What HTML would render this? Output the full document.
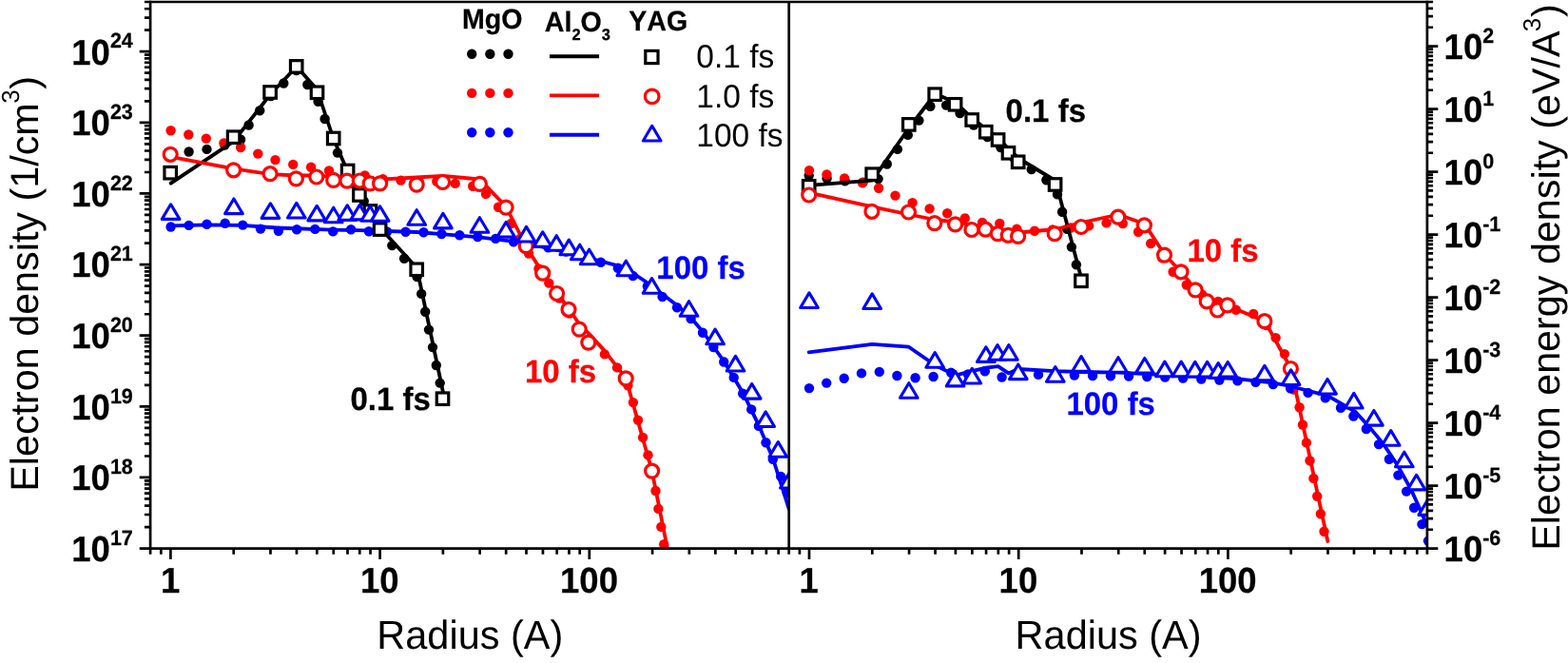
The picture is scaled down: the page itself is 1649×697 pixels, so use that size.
<!DOCTYPE html>
<html lang="en"><head><meta charset="utf-8"><title>Electron density and energy density vs radius</title>
<style>html,body{margin:0;padding:0;background:#fff;overflow:hidden}svg{display:block}text{font-family:"Liberation Sans",sans-serif;font-kerning:none;font-variant-ligatures:none;text-rendering:geometricPrecision}.b{font-weight:bold;stroke-width:0.25px;stroke-linejoin:round;stroke:#000}.b.r{fill:#f00;stroke:#f00}.b.u{fill:#00f;stroke:#00f}</style>
</head><body>
<svg width="1649" height="697" viewBox="0 0 1649 697">
<rect width="1649" height="697" fill="#fff"/>
<defs><clipPath id="cl"><rect x="158.1" y="2" width="671.6" height="574.6"/></clipPath><clipPath id="cr"><rect x="829.7" y="2" width="671.2" height="574.6"/></clipPath></defs>
<g clip-path="url(#cl)">
<g fill="#000" stroke="none"><circle cx="198.6" cy="159.5" r="5.2"/><circle cx="217.5" cy="156.9" r="5.2"/><circle cx="236.3" cy="152.5" r="5.2"/><circle cx="253.1" cy="146.7" r="5.2"/><circle cx="261.6" cy="131.5" r="5.2"/><circle cx="273.2" cy="116.2" r="5.2"/><circle cx="284.8" cy="101" r="5.2"/><circle cx="298.3" cy="87.5" r="5.2"/><circle cx="311.7" cy="74" r="5.2"/><circle cx="323.3" cy="89" r="5.2"/><circle cx="334.6" cy="106.8" r="5.2"/><circle cx="341.6" cy="125" r="5.2"/><circle cx="348.5" cy="143" r="5.2"/><circle cx="355" cy="160.6" r="5.2"/><circle cx="364.2" cy="177.6" r="5.2"/><circle cx="373.5" cy="194.5" r="5.2"/><circle cx="382.7" cy="211.5" r="5.2"/><circle cx="392.5" cy="227" r="5.2"/><circle cx="402.4" cy="242.5" r="5.2"/><circle cx="412.3" cy="258.1" r="5.2"/><circle cx="425.1" cy="271.7" r="5.2"/><circle cx="438.6" cy="291" r="5.2"/><circle cx="443.2" cy="308.9" r="5.2"/><circle cx="447.2" cy="327.7" r="5.2"/><circle cx="451" cy="346.6" r="5.2"/><circle cx="455" cy="365.1" r="5.2"/><circle cx="458.8" cy="384" r="5.2"/><circle cx="462.7" cy="402.6" r="5.2"/></g>
<g fill="#f00" stroke="none"><circle cx="179.6" cy="137.3" r="5.2"/><circle cx="198.3" cy="141.5" r="5.2"/><circle cx="216.8" cy="145.6" r="5.2"/><circle cx="235.4" cy="150.4" r="5.2"/><circle cx="253.1" cy="155" r="5.2"/><circle cx="271.3" cy="161.6" r="5.2"/><circle cx="289.5" cy="168.1" r="5.2"/><circle cx="308.2" cy="172.9" r="5.2"/><circle cx="327.1" cy="175.8" r="5.2"/><circle cx="346" cy="179.5" r="5.2"/><circle cx="364.9" cy="182" r="5.2"/><circle cx="383.7" cy="184.4" r="5.2"/><circle cx="402.6" cy="188.1" r="5.2"/><circle cx="421.5" cy="189.6" r="5.2"/><circle cx="440.4" cy="190.2" r="5.2"/><circle cx="459.3" cy="190.8" r="5.2"/><circle cx="478.7" cy="192.9" r="5.2"/><circle cx="497.2" cy="195.8" r="5.2"/><circle cx="511" cy="203.9" r="5.2"/><circle cx="524.1" cy="217.7" r="5.2"/><circle cx="537.5" cy="235" r="5.2"/><circle cx="547" cy="251" r="5.2"/><circle cx="556.1" cy="266.6" r="5.2"/><circle cx="566.5" cy="282.5" r="5.2"/><circle cx="577.3" cy="297.6" r="5.2"/><circle cx="588.3" cy="313.5" r="5.2"/><circle cx="598.8" cy="329.5" r="5.2"/><circle cx="609.5" cy="345.5" r="5.2"/><circle cx="622" cy="359.5" r="5.2"/><circle cx="635.9" cy="372.4" r="5.2"/><circle cx="649" cy="386.4" r="5.2"/><circle cx="660.4" cy="405.2" r="5.2"/><circle cx="665.9" cy="423.1" r="5.2"/><circle cx="671" cy="441.6" r="5.2"/><circle cx="676.1" cy="459.9" r="5.2"/><circle cx="681.5" cy="478.4" r="5.2"/><circle cx="685.5" cy="497" r="5.2"/><circle cx="689.5" cy="516" r="5.2"/><circle cx="692.4" cy="534.9" r="5.2"/><circle cx="695.3" cy="553.9" r="5.2"/><circle cx="698.2" cy="572.3" r="5.2"/></g>
<g fill="#00f" stroke="none"><circle cx="179.6" cy="238.5" r="5.2"/><circle cx="198.6" cy="236.9" r="5.2"/><circle cx="217.5" cy="235.8" r="5.2"/><circle cx="236.7" cy="234.8" r="5.2"/><circle cx="255.3" cy="236.6" r="5.2"/><circle cx="274" cy="240.6" r="5.2"/><circle cx="292.9" cy="242.7" r="5.2"/><circle cx="312.1" cy="241.2" r="5.2"/><circle cx="331.3" cy="240.9" r="5.2"/><circle cx="350.2" cy="243.4" r="5.2"/><circle cx="369.1" cy="241.2" r="5.2"/><circle cx="387.9" cy="243.3" r="5.2"/><circle cx="407" cy="243.5" r="5.2"/><circle cx="426.6" cy="243.8" r="5.2"/><circle cx="445.5" cy="244.3" r="5.2"/><circle cx="464.4" cy="246" r="5.2"/><circle cx="483.3" cy="247.2" r="5.2"/><circle cx="502.3" cy="249.1" r="5.2"/><circle cx="521.2" cy="250.9" r="5.2"/><circle cx="540.1" cy="254.2" r="5.2"/><circle cx="558.5" cy="256.8" r="5.2"/><circle cx="576.5" cy="260.2" r="5.2"/><circle cx="595.3" cy="264.5" r="5.2"/><circle cx="614" cy="270" r="5.2"/><circle cx="631.9" cy="275.8" r="5.2"/><circle cx="649.8" cy="281.7" r="5.2"/><circle cx="665.7" cy="290" r="5.2"/><circle cx="680.8" cy="300.9" r="5.2"/><circle cx="696.6" cy="312" r="5.2"/><circle cx="712" cy="323.3" r="5.2"/><circle cx="726.6" cy="335.1" r="5.2"/><circle cx="739" cy="349.7" r="5.2"/><circle cx="750.4" cy="365" r="5.2"/><circle cx="761.2" cy="380.5" r="5.2"/><circle cx="771.7" cy="396.9" r="5.2"/><circle cx="781.2" cy="413.7" r="5.2"/><circle cx="790.2" cy="430.4" r="5.2"/><circle cx="797.9" cy="447.9" r="5.2"/><circle cx="805.5" cy="465.3" r="5.2"/><circle cx="812.8" cy="482.7" r="5.2"/><circle cx="821.2" cy="500.9" r="5.2"/><circle cx="827.8" cy="518.4" r="5.2"/></g>
<g fill="none" stroke="#000" stroke-width="3.8" stroke-linejoin="round" stroke-linecap="round"><polyline points="179.7,192.7 245.7,148.6 284.5,99 312,70 333.3,94 350.7,146 365.5,180 378.3,205.5 389.5,223 399.6,239.3 438.4,281.8 465.9,412"/></g>
<g fill="none" stroke="#f00" stroke-width="3.8" stroke-linejoin="round" stroke-linecap="round"><polyline points="179.4,164.9 245.6,177.3 284,183.1 311.5,184.5 333,184.5 350.7,186 399.6,188.6 438.4,186.5 465.9,184.9 504.4,188.5 532.1,217 553.5,259.5 570.7,287 585.5,308 598,324.5 609.5,341 621.1,352.6 635.7,368.6 658.2,397.7 685.6,495 701.9,576.6"/></g>
<g fill="none" stroke="#00f" stroke-width="3.8" stroke-linejoin="round" stroke-linecap="round"><polyline points="179.4,237.3 218.2,236.3 254.6,236.9 291,239.5 349.2,241.7 390,242.4 438,244 464.4,246.2 504,249.3 540.1,253.8 580,261.5 620,271.5 634.6,275.4 656.4,281 678.2,295.5 701.5,313 714.6,323.1 726.6,334 739,348.5 761.1,379.5 781.2,412.7 797.9,446.9 812.8,481.7 829.7,535"/></g>
<g fill="#fff" stroke="#000" stroke-width="3.2"><rect x="172.95" y="175.45" width="12.5" height="12.5"/><rect x="239.35" y="137.95" width="12.5" height="12.5"/><rect x="277.85" y="90.75" width="12.5" height="12.5"/><rect x="305.45" y="63.65" width="12.5" height="12.5"/><rect x="327.25" y="91.05" width="12.5" height="12.5"/><rect x="344.45" y="139.25" width="12.5" height="12.5"/><rect x="359.35" y="173.25" width="12.5" height="12.5"/><rect x="371.65" y="198.75" width="12.5" height="12.5"/><rect x="383.25" y="215.75" width="12.5" height="12.5"/><rect x="393.35" y="234.85" width="12.5" height="12.5"/><rect x="431.95" y="277.05" width="12.5" height="12.5"/><rect x="459.25" y="412.95" width="12.5" height="12.5"/></g>
<g fill="#fff" stroke="#f00" stroke-width="3.2"><circle cx="179.2" cy="162.3" r="7"/><circle cx="245.6" cy="178.8" r="7"/><circle cx="284.1" cy="182.7" r="7"/><circle cx="311.4" cy="187.9" r="7"/><circle cx="332.8" cy="186" r="7"/><circle cx="350.7" cy="189.4" r="7"/><circle cx="364.9" cy="190.1" r="7"/><circle cx="378.3" cy="190" r="7"/><circle cx="389.2" cy="192.9" r="7"/><circle cx="399.6" cy="192.9" r="7"/><circle cx="438.2" cy="194.1" r="7"/><circle cx="465.6" cy="191.5" r="7"/><circle cx="504.4" cy="193.4" r="7"/><circle cx="532.1" cy="218.1" r="7"/><circle cx="553.2" cy="258.6" r="7"/><circle cx="570.7" cy="287.2" r="7"/><circle cx="585.6" cy="308.5" r="7"/><circle cx="598" cy="325.3" r="7"/><circle cx="609.2" cy="346.1" r="7"/><circle cx="618.8" cy="360.1" r="7"/><circle cx="658.2" cy="397.9" r="7"/><circle cx="685.6" cy="495.1" r="7"/></g>
<g fill="#fff" stroke="#00f" stroke-width="3.1" stroke-linejoin="round"><path d="M179.6 214.8L188.9 230.4L170.3 230.4Z"/><path d="M245.9 209L255.2 224.6L236.6 224.6Z"/><path d="M284.4 213.8L293.7 229.4L275.1 229.4Z"/><path d="M311.8 213.4L321.1 229L302.5 229Z"/><path d="M333.2 216.3L342.5 231.9L323.9 231.9Z"/><path d="M350.7 218.2L360 233.8L341.4 233.8Z"/><path d="M365.2 215.8L374.5 231.4L355.9 231.4Z"/><path d="M378.3 215.3L387.6 230.9L369 230.9Z"/><path d="M389.2 216.7L398.5 232.3L379.9 232.3Z"/><path d="M399.6 216.8L408.9 232.4L390.3 232.4Z"/><path d="M438.2 220.7L447.5 236.3L428.9 236.3Z"/><path d="M465.9 224.3L475.2 239.9L456.6 239.9Z"/><path d="M504.4 228.7L513.7 244.3L495.1 244.3Z"/><path d="M532.1 233.5L541.4 249.1L522.8 249.1Z"/><path d="M553.5 238.4L562.8 254L544.2 254Z"/><path d="M570.7 243.8L580 259.4L561.4 259.4Z"/><path d="M585.2 247.7L594.5 263.3L575.9 263.3Z"/><path d="M598.3 252.1L607.6 267.7L589 267.7Z"/><path d="M609.7 257.2L619 272.8L600.4 272.8Z"/><path d="M619.6 262.2L628.9 277.8L610.3 277.8Z"/><path d="M658.3 274.2L667.6 289.8L649 289.8Z"/><path d="M685.5 292.6L694.8 308.2L676.2 308.2Z"/><path d="M724.5 316.7L733.8 332.3L715.2 332.3Z"/><path d="M752.1 346.1L761.4 361.7L742.8 361.7Z"/><path d="M773.5 374.4L782.8 390L764.2 390Z"/><path d="M790.7 403.5L800 419.1L781.4 419.1Z"/><path d="M805.2 432.9L814.5 448.5L795.9 448.5Z"/><path d="M818.3 464.6L827.6 480.2L809 480.2Z"/><path d="M829.9 497.4L839.2 513L820.6 513Z"/></g>
</g>
<g clip-path="url(#cr)">
<g fill="#000" stroke="none"><circle cx="850.7" cy="184.6" r="5.2"/><circle cx="869.6" cy="187.5" r="5.2"/><circle cx="888.6" cy="190.2" r="5.2"/><circle cx="907.5" cy="191.6" r="5.2"/><circle cx="923.6" cy="188.1" r="5.2"/><circle cx="932.8" cy="172.5" r="5.2"/><circle cx="943.9" cy="156.9" r="5.2"/><circle cx="954.8" cy="141.9" r="5.2"/><circle cx="966.4" cy="126.6" r="5.2"/><circle cx="978.4" cy="111.7" r="5.2"/><circle cx="995.1" cy="110.6" r="5.2"/><circle cx="1009.5" cy="119" r="5.2"/><circle cx="1024" cy="131.5" r="5.2"/><circle cx="1038.5" cy="144" r="5.2"/><circle cx="1052.4" cy="155.1" r="5.2"/><circle cx="1067" cy="167" r="5.2"/><circle cx="1084.7" cy="178.1" r="5.2"/><circle cx="1100.4" cy="189.3" r="5.2"/><circle cx="1112" cy="204.4" r="5.2"/><circle cx="1117.1" cy="222.7" r="5.2"/><circle cx="1122.2" cy="240.9" r="5.2"/><circle cx="1126.9" cy="259.6" r="5.2"/><circle cx="1131.9" cy="278.2" r="5.2"/></g>
<g fill="#f00" stroke="none"><circle cx="851" cy="179.1" r="5.2"/><circle cx="869.5" cy="183.5" r="5.2"/><circle cx="888.1" cy="187.5" r="5.2"/><circle cx="907" cy="192.2" r="5.2"/><circle cx="924.1" cy="197.7" r="5.2"/><circle cx="941.5" cy="205.6" r="5.2"/><circle cx="959.6" cy="213.1" r="5.2"/><circle cx="977.6" cy="219.4" r="5.2"/><circle cx="996.2" cy="224.2" r="5.2"/><circle cx="1014.8" cy="229.4" r="5.2"/><circle cx="1033" cy="234" r="5.2"/><circle cx="1051.3" cy="235" r="5.2"/><circle cx="1069.3" cy="240.6" r="5.2"/><circle cx="1088" cy="242.7" r="5.2"/><circle cx="1107" cy="241.5" r="5.2"/><circle cx="1126" cy="239.5" r="5.2"/><circle cx="1145.2" cy="237.4" r="5.2"/><circle cx="1163.6" cy="234.4" r="5.2"/><circle cx="1180.8" cy="235" r="5.2"/><circle cx="1197.1" cy="243.7" r="5.2"/><circle cx="1210.2" cy="256" r="5.2"/><circle cx="1222" cy="271" r="5.2"/><circle cx="1233.6" cy="285.8" r="5.2"/><circle cx="1247.8" cy="299.5" r="5.2"/><circle cx="1264" cy="309.5" r="5.2"/><circle cx="1281.1" cy="316.9" r="5.2"/><circle cx="1299.8" cy="325.7" r="5.2"/><circle cx="1318.2" cy="330" r="5.2"/><circle cx="1332" cy="342" r="5.2"/><circle cx="1341.6" cy="355.1" r="5.2"/><circle cx="1350.9" cy="372.1" r="5.2"/><circle cx="1356.1" cy="390.8" r="5.2"/><circle cx="1360.5" cy="409.6" r="5.2"/><circle cx="1366.6" cy="428.2" r="5.2"/><circle cx="1370" cy="446.5" r="5.2"/><circle cx="1373.9" cy="465.4" r="5.2"/><circle cx="1377.5" cy="484.3" r="5.2"/><circle cx="1381.4" cy="502.9" r="5.2"/><circle cx="1385.2" cy="521.7" r="5.2"/><circle cx="1388.9" cy="540.2" r="5.2"/><circle cx="1392.5" cy="558.8" r="5.2"/></g>
<g fill="#00f" stroke="none"><circle cx="851" cy="408.1" r="5.2"/><circle cx="869.2" cy="402.6" r="5.2"/><circle cx="887.7" cy="397.8" r="5.2"/><circle cx="906" cy="392.4" r="5.2"/><circle cx="924.8" cy="390.9" r="5.2"/><circle cx="943.4" cy="395" r="5.2"/><circle cx="962.6" cy="397.2" r="5.2"/><circle cx="981.6" cy="396" r="5.2"/><circle cx="1000.2" cy="391.7" r="5.2"/><circle cx="1018" cy="393.5" r="5.2"/><circle cx="1035.8" cy="390.2" r="5.2"/><circle cx="1053.6" cy="396.5" r="5.2"/><circle cx="1072.5" cy="394.5" r="5.2"/><circle cx="1092" cy="393.9" r="5.2"/><circle cx="1111" cy="394.2" r="5.2"/><circle cx="1129.9" cy="394.6" r="5.2"/><circle cx="1149.1" cy="395" r="5.2"/><circle cx="1168" cy="395.3" r="5.2"/><circle cx="1187.1" cy="395.6" r="5.2"/><circle cx="1206.3" cy="396" r="5.2"/><circle cx="1225.2" cy="396.5" r="5.2"/><circle cx="1244.1" cy="397.5" r="5.2"/><circle cx="1263.3" cy="398.5" r="5.2"/><circle cx="1282.4" cy="399.6" r="5.2"/><circle cx="1301.5" cy="400.4" r="5.2"/><circle cx="1320.5" cy="401.7" r="5.2"/><circle cx="1338.9" cy="404.1" r="5.2"/><circle cx="1357.1" cy="408.2" r="5.2"/><circle cx="1375.6" cy="412.9" r="5.2"/><circle cx="1393.8" cy="418.4" r="5.2"/><circle cx="1410" cy="428.8" r="5.2"/><circle cx="1423.4" cy="437.5" r="5.2"/><circle cx="1436.8" cy="451" r="5.2"/><circle cx="1450" cy="467.1" r="5.2"/><circle cx="1460.9" cy="482.7" r="5.2"/><circle cx="1470.4" cy="499.6" r="5.2"/><circle cx="1479.1" cy="516.6" r="5.2"/><circle cx="1487.1" cy="533.7" r="5.2"/><circle cx="1495.4" cy="551.1" r="5.2"/><circle cx="1502" cy="568.6" r="5.2"/></g>
<g fill="none" stroke="#000" stroke-width="3.8" stroke-linejoin="round" stroke-linecap="round"><polyline points="851,194.8 917.3,189.6 956,134.5 983.6,98.5 1004.9,108 1022.3,124 1037.1,136 1049.9,145 1061.1,157 1071.2,166.5 1110,190 1136.8,291"/></g>
<g fill="none" stroke="#f00" stroke-width="3.8" stroke-linejoin="round" stroke-linecap="round"><polyline points="851,202.7 917.3,217.3 956,225.5 983.6,231 1004.9,233.5 1022.3,237 1037,238.5 1049.9,241 1061,243 1071.2,244.5 1110,241 1137.5,234 1176.3,225.5 1203.8,235.5 1225,268 1242.3,286 1257.3,304.5 1270,316.5 1281.3,324 1291.4,321.5 1330.2,337.7 1357.7,387.5 1396.3,569"/></g>
<g fill="none" stroke="#00f" stroke-width="3.8" stroke-linejoin="round" stroke-linecap="round"><polyline points="850.7,370.3 917.2,361.8 955.8,364.7 983.2,383.7 1004.6,394.6 1022.3,390.2 1036.9,386.6 1049.7,385.1 1060.6,392.4 1070.8,388 1109.5,390.2 1137,391 1176,391.7 1205.5,393.1 1249,395.3 1300,398.2 1338.2,402.4 1357.1,406 1396.4,416.2 1425.5,433 1440.1,448.9 1454.6,466.4 1469.2,488.2 1483.8,514.4 1491,530 1496.9,543.8 1500.9,553"/></g>
<g fill="#fff" stroke="#000" stroke-width="3.2"><rect x="844.45" y="189.55" width="12.5" height="12.5"/><rect x="910.95" y="176.95" width="12.5" height="12.5"/><rect x="949.55" y="124.65" width="12.5" height="12.5"/><rect x="976.95" y="92.95" width="12.5" height="12.5"/><rect x="998.35" y="103.55" width="12.5" height="12.5"/><rect x="1015.95" y="119.75" width="12.5" height="12.5"/><rect x="1030.55" y="132.45" width="12.5" height="12.5"/><rect x="1043.35" y="140.75" width="12.5" height="12.5"/><rect x="1054.25" y="154.55" width="12.5" height="12.5"/><rect x="1064.45" y="164.05" width="12.5" height="12.5"/><rect x="1103.35" y="187.75" width="12.5" height="12.5"/><rect x="1130.75" y="289.05" width="12.5" height="12.5"/></g>
<g fill="#fff" stroke="#f00" stroke-width="3.2"><circle cx="850.7" cy="205" r="7"/><circle cx="916.9" cy="222.3" r="7"/><circle cx="955.5" cy="223" r="7"/><circle cx="982.8" cy="234.6" r="7"/><circle cx="1004.6" cy="235.9" r="7"/><circle cx="1021.9" cy="241.5" r="7"/><circle cx="1036.4" cy="241.2" r="7"/><circle cx="1049.3" cy="245.7" r="7"/><circle cx="1060.2" cy="247.3" r="7"/><circle cx="1070.6" cy="248.4" r="7"/><circle cx="1109.1" cy="245.6" r="7"/><circle cx="1137" cy="238.5" r="7"/><circle cx="1175.8" cy="228.2" r="7"/><circle cx="1203.4" cy="236.8" r="7"/><circle cx="1224.5" cy="268.1" r="7"/><circle cx="1242" cy="285.8" r="7"/><circle cx="1257.1" cy="304.9" r="7"/><circle cx="1269.2" cy="316.9" r="7"/><circle cx="1280.4" cy="326" r="7"/><circle cx="1290.9" cy="320.9" r="7"/><circle cx="1329.9" cy="337.7" r="7"/><circle cx="1357.4" cy="387.5" r="7"/></g>
<g fill="#fff" stroke="#00f" stroke-width="3.1" stroke-linejoin="round"><path d="M851 307.9L860.3 323.5L841.7 323.5Z"/><path d="M917.2 308.9L926.5 324.5L907.9 324.5Z"/><path d="M955.8 402.7L965.1 418.3L946.5 418.3Z"/><path d="M983.2 370.6L992.5 386.2L973.9 386.2Z"/><path d="M1004.6 390.3L1013.9 405.9L995.3 405.9Z"/><path d="M1022.3 387.4L1031.6 403L1013 403Z"/><path d="M1036.9 364.8L1046.2 380.4L1027.6 380.4Z"/><path d="M1049 362.6L1058.3 378.2L1039.7 378.2Z"/><path d="M1060.9 362.6L1070.2 378.2L1051.6 378.2Z"/><path d="M1070.8 383L1080.1 398.6L1061.5 398.6Z"/><path d="M1109.8 385.6L1119.1 401.2L1100.5 401.2Z"/><path d="M1137.1 374.6L1146.4 390.2L1127.8 390.2Z"/><path d="M1176 375.7L1185.3 391.3L1166.7 391.3Z"/><path d="M1203.8 376.5L1213.1 392.1L1194.5 392.1Z"/><path d="M1224.9 380.1L1234.2 395.7L1215.6 395.7Z"/><path d="M1242.2 380.1L1251.5 395.7L1232.9 395.7Z"/><path d="M1256.8 380.4L1266.1 396L1247.5 396Z"/><path d="M1269.6 380.4L1278.9 396L1260.3 396Z"/><path d="M1281.2 381.6L1290.5 397.2L1271.9 397.2Z"/><path d="M1291.2 380.5L1300.5 396.1L1281.9 396.1Z"/><path d="M1329.9 384.3L1339.2 399.9L1320.6 399.9Z"/><path d="M1357.6 388.9L1366.9 404.5L1348.3 404.5Z"/><path d="M1396 398.5L1405.3 414.1L1386.7 414.1Z"/><path d="M1423.8 413.4L1433.1 429L1414.5 429Z"/><path d="M1444.9 431.5L1454.2 447.1L1435.6 447.1Z"/><path d="M1462.7 452.6L1472 468.2L1453.4 468.2Z"/><path d="M1476.8 475.2L1486.1 490.8L1467.5 490.8Z"/><path d="M1489.6 499.3L1498.9 514.9L1480.3 514.9Z"/><path d="M1501.3 525.8L1510.6 541.4L1492 541.4Z"/></g>
</g>
<g stroke="#000" stroke-width="2.7" fill="none" stroke-linecap="butt">
<path d="M151.9 2H1507.1"/>
<path d="M146.7 576.6H1512.3"/>
<path d="M158.1 0.65V582.8"/>
<path d="M829.7 2V582.8"/>
<path d="M1500.9 0.65V582.8"/>
<path d="M158.1 554.13H151.9M158.1 540.99H151.9M158.1 531.67H151.9M158.1 524.44H151.9M158.1 518.53H151.9M158.1 513.53H151.9M158.1 509.2H151.9M158.1 505.38H151.9M158.1 501.97H146.7M158.1 479.5H151.9M158.1 466.36H151.9M158.1 457.04H151.9M158.1 449.81H151.9M158.1 443.9H151.9M158.1 438.9H151.9M158.1 434.57H151.9M158.1 430.75H151.9M158.1 427.34H146.7M158.1 404.87H151.9M158.1 391.73H151.9M158.1 382.41H151.9M158.1 375.18H151.9M158.1 369.27H151.9M158.1 364.27H151.9M158.1 359.94H151.9M158.1 356.12H151.9M158.1 352.71H146.7M158.1 330.24H151.9M158.1 317.1H151.9M158.1 307.78H151.9M158.1 300.55H151.9M158.1 294.64H151.9M158.1 289.64H151.9M158.1 285.31H151.9M158.1 281.49H151.9M158.1 278.08H146.7M158.1 255.61H151.9M158.1 242.47H151.9M158.1 233.15H151.9M158.1 225.92H151.9M158.1 220.01H151.9M158.1 215.01H151.9M158.1 210.68H151.9M158.1 206.86H151.9M158.1 203.45H146.7M158.1 180.98H151.9M158.1 167.84H151.9M158.1 158.52H151.9M158.1 151.29H151.9M158.1 145.38H151.9M158.1 140.38H151.9M158.1 136.05H151.9M158.1 132.23H151.9M158.1 128.82H146.7M158.1 106.35H151.9M158.1 93.21H151.9M158.1 83.89H151.9M158.1 76.66H151.9M158.1 70.75H151.9M158.1 65.75H151.9M158.1 61.42H151.9M158.1 57.6H151.9M158.1 54.19H146.7M158.1 31.72H151.9M158.1 18.58H151.9M158.1 9.26H151.9M1500.9 556.73H1507.1M1500.9 545.11H1507.1M1500.9 536.86H1507.1M1500.9 530.47H1507.1M1500.9 525.24H1507.1M1500.9 520.82H1507.1M1500.9 517H1507.1M1500.9 513.62H1507.1M1500.9 510.6H1512.3M1500.9 490.73H1507.1M1500.9 479.11H1507.1M1500.9 470.86H1507.1M1500.9 464.47H1507.1M1500.9 459.24H1507.1M1500.9 454.82H1507.1M1500.9 451H1507.1M1500.9 447.62H1507.1M1500.9 444.6H1512.3M1500.9 424.73H1507.1M1500.9 413.11H1507.1M1500.9 404.86H1507.1M1500.9 398.47H1507.1M1500.9 393.24H1507.1M1500.9 388.82H1507.1M1500.9 385H1507.1M1500.9 381.62H1507.1M1500.9 378.6H1512.3M1500.9 358.73H1507.1M1500.9 347.11H1507.1M1500.9 338.86H1507.1M1500.9 332.47H1507.1M1500.9 327.24H1507.1M1500.9 322.82H1507.1M1500.9 319H1507.1M1500.9 315.62H1507.1M1500.9 312.6H1512.3M1500.9 292.73H1507.1M1500.9 281.11H1507.1M1500.9 272.86H1507.1M1500.9 266.47H1507.1M1500.9 261.24H1507.1M1500.9 256.82H1507.1M1500.9 253H1507.1M1500.9 249.62H1507.1M1500.9 246.6H1512.3M1500.9 226.73H1507.1M1500.9 215.11H1507.1M1500.9 206.86H1507.1M1500.9 200.47H1507.1M1500.9 195.24H1507.1M1500.9 190.82H1507.1M1500.9 187H1507.1M1500.9 183.62H1507.1M1500.9 180.6H1512.3M1500.9 160.73H1507.1M1500.9 149.11H1507.1M1500.9 140.86H1507.1M1500.9 134.47H1507.1M1500.9 129.24H1507.1M1500.9 124.82H1507.1M1500.9 121H1507.1M1500.9 117.62H1507.1M1500.9 114.6H1512.3M1500.9 94.73H1507.1M1500.9 83.11H1507.1M1500.9 74.86H1507.1M1500.9 68.47H1507.1M1500.9 63.24H1507.1M1500.9 58.82H1507.1M1500.9 55H1507.1M1500.9 51.62H1507.1M1500.9 48.6H1512.3M1500.9 28.73H1507.1M1500.9 17.11H1507.1M1500.9 8.86H1507.1M169.32 576.6V582.8M179.4 576.6V588M245.69 576.6V582.8M284.46 576.6V582.8M311.97 576.6V582.8M333.31 576.6V582.8M350.75 576.6V582.8M365.49 576.6V582.8M378.26 576.6V582.8M389.52 576.6V582.8M399.6 576.6V588M465.89 576.6V582.8M504.66 576.6V582.8M532.17 576.6V582.8M553.51 576.6V582.8M570.95 576.6V582.8M585.69 576.6V582.8M598.46 576.6V582.8M609.72 576.6V582.8M619.8 576.6V588M686.09 576.6V582.8M724.86 576.6V582.8M752.37 576.6V582.8M773.71 576.6V582.8M791.15 576.6V582.8M805.89 576.6V582.8M818.66 576.6V582.8M840.92 576.6V582.8M851 576.6V588M917.29 576.6V582.8M956.06 576.6V582.8M983.57 576.6V582.8M1004.91 576.6V582.8M1022.35 576.6V582.8M1037.09 576.6V582.8M1049.86 576.6V582.8M1061.12 576.6V582.8M1071.2 576.6V588M1137.49 576.6V582.8M1176.26 576.6V582.8M1203.77 576.6V582.8M1225.11 576.6V582.8M1242.55 576.6V582.8M1257.29 576.6V582.8M1270.06 576.6V582.8M1281.32 576.6V582.8M1291.4 576.6V588M1357.69 576.6V582.8M1396.46 576.6V582.8M1423.97 576.6V582.8M1445.31 576.6V582.8M1462.75 576.6V582.8M1477.49 576.6V582.8M1490.26 576.6V582.8"/>
</g>
<text transform="translate(139.8 590) scale(1 1.03)" class="b" text-anchor="end" font-size="36.5">10<tspan font-size="21.5" dy="-16.7">17</tspan></text>
<text transform="translate(139.8 515.37) scale(1 1.03)" class="b" text-anchor="end" font-size="36.5">10<tspan font-size="21.5" dy="-16.7">18</tspan></text>
<text transform="translate(139.8 440.74) scale(1 1.03)" class="b" text-anchor="end" font-size="36.5">10<tspan font-size="21.5" dy="-16.7">19</tspan></text>
<text transform="translate(139.8 366.11) scale(1 1.03)" class="b" text-anchor="end" font-size="36.5">10<tspan font-size="21.5" dy="-16.7">20</tspan></text>
<text transform="translate(139.8 291.48) scale(1 1.03)" class="b" text-anchor="end" font-size="36.5">10<tspan font-size="21.5" dy="-16.7">21</tspan></text>
<text transform="translate(139.8 216.85) scale(1 1.03)" class="b" text-anchor="end" font-size="36.5">10<tspan font-size="21.5" dy="-16.7">22</tspan></text>
<text transform="translate(139.8 142.22) scale(1 1.03)" class="b" text-anchor="end" font-size="36.5">10<tspan font-size="21.5" dy="-16.7">23</tspan></text>
<text transform="translate(139.8 67.59) scale(1 1.03)" class="b" text-anchor="end" font-size="36.5">10<tspan font-size="21.5" dy="-16.7">24</tspan></text>
<text transform="translate(1518.6 589.8) scale(1 1.03)" class="b" font-size="36.5">10<tspan font-size="21.5" dy="-16.7">-6</tspan></text>
<text transform="translate(1518.6 523.8) scale(1 1.03)" class="b" font-size="36.5">10<tspan font-size="21.5" dy="-16.7">-5</tspan></text>
<text transform="translate(1518.6 457.8) scale(1 1.03)" class="b" font-size="36.5">10<tspan font-size="21.5" dy="-16.7">-4</tspan></text>
<text transform="translate(1518.6 391.8) scale(1 1.03)" class="b" font-size="36.5">10<tspan font-size="21.5" dy="-16.7">-3</tspan></text>
<text transform="translate(1518.6 325.8) scale(1 1.03)" class="b" font-size="36.5">10<tspan font-size="21.5" dy="-16.7">-2</tspan></text>
<text transform="translate(1518.6 259.8) scale(1 1.03)" class="b" font-size="36.5">10<tspan font-size="21.5" dy="-16.7">-1</tspan></text>
<text transform="translate(1518.6 193.8) scale(1 1.03)" class="b" font-size="36.5">10<tspan font-size="21.5" dy="-16.7">0</tspan></text>
<text transform="translate(1518.6 127.8) scale(1 1.03)" class="b" font-size="36.5">10<tspan font-size="21.5" dy="-16.7">1</tspan></text>
<text transform="translate(1518.6 61.8) scale(1 1.03)" class="b" font-size="36.5">10<tspan font-size="21.5" dy="-16.7">2</tspan></text>
<text transform="translate(179.1 622.8) scale(1 1.03)" class="b" text-anchor="middle" font-size="36.5">1</text>
<text transform="translate(399.3 622.8) scale(1 1.03)" class="b" text-anchor="middle" font-size="36.5">10</text>
<text transform="translate(619.5 622.8) scale(1 1.03)" class="b" text-anchor="middle" font-size="36.5">100</text>
<text transform="translate(850.7 622.8) scale(1 1.03)" class="b" text-anchor="middle" font-size="36.5">1</text>
<text transform="translate(1070.9 622.8) scale(1 1.03)" class="b" text-anchor="middle" font-size="36.5">10</text>
<text transform="translate(1291.1 622.8) scale(1 1.03)" class="b" text-anchor="middle" font-size="36.5">100</text>
<text transform="translate(494.3 681.8) scale(1 1.02)" text-anchor="middle" font-size="41.5">Radius (A)</text>
<text transform="translate(1165.6 681.8) scale(1 1.02)" text-anchor="middle" font-size="41.5">Radius (A)</text>
<text transform="translate(40.2 516.8) rotate(-90)" font-size="41.3">Electron density (1/cm<tspan font-size="26" dy="-20.2" dx="-0.5">3</tspan><tspan dy="20.2" dx="0.5">)</tspan></text>
<text transform="translate(1639.9 578.8) rotate(-90)" font-size="41.3">Electron energy density (eV/A<tspan font-size="26" dy="-20.2" dx="-0.8">3</tspan><tspan dy="20.2" dx="0.8">)</tspan></text>
<text transform="translate(486 30.1) scale(1 1.03)" class="b" font-size="28.6">MgO</text>
<text transform="translate(572.8 32.6) scale(1 1.03)" class="b" font-size="28.6">Al<tspan font-size="16.5" dy="9.2">2</tspan><tspan dy="-9.2">O</tspan><tspan font-size="16.5" dy="9.2">3</tspan></text>
<text transform="translate(661.3 32.4) scale(1 1.03)" class="b" font-size="28.6">YAG</text>
<g fill="#000"><circle cx="496.2" cy="56.8" r="5.2"/><circle cx="515.35" cy="56.8" r="5.2"/><circle cx="534.5" cy="56.8" r="5.2"/></g>
<path d="M578 59.2H630.1" stroke="#000" stroke-width="3.9" fill="none"/>
<text transform="translate(732.3 71.3) scale(1 1.03)" font-size="33.5">0.1 fs</text>
<g fill="#f00"><circle cx="496.2" cy="97.9" r="5.2"/><circle cx="515.35" cy="97.9" r="5.2"/><circle cx="534.5" cy="97.9" r="5.2"/></g>
<path d="M578 100.4H630.1" stroke="#f00" stroke-width="3.9" fill="none"/>
<text transform="translate(732.3 112.6) scale(1 1.03)" font-size="33.5">1.0 fs</text>
<g fill="#00f"><circle cx="496.2" cy="139.2" r="5.2"/><circle cx="515.35" cy="139.2" r="5.2"/><circle cx="534.5" cy="139.2" r="5.2"/></g>
<path d="M578 141.7H630.1" stroke="#00f" stroke-width="3.9" fill="none"/>
<text transform="translate(732.3 153.9) scale(1 1.03)" font-size="33.5">100 fs</text>
<rect x="678.8" y="53.4" width="13.2" height="13.2" fill="#fff" stroke="#000" stroke-width="3.2"/>
<circle cx="685.7" cy="101.4" r="7.3" fill="#fff" stroke="#f00" stroke-width="3.2"/>
<path d="M685.7 132.3L695 148.0L676.4 148.0Z" fill="#fff" stroke="#00f" stroke-width="3.1" stroke-linejoin="round"/>
<text transform="translate(368.5 430.6) scale(1 1.03)" class="b" font-size="33">0.1 fs</text>
<text transform="translate(552 402.3) scale(1 1.03)" class="b r" font-size="33">10 fs</text>
<text transform="translate(690.3 293.3) scale(1 1.03)" class="b u" font-size="33">100 fs</text>
<text transform="translate(1057.6 128.2) scale(1 1.03)" class="b" font-size="33">0.1 fs</text>
<text transform="translate(1248.4 275.4) scale(1 1.03)" class="b r" font-size="33">10 fs</text>
<text transform="translate(1121.4 435.8) scale(1 1.03)" class="b u" font-size="33">100 fs</text>
</svg></body></html>
